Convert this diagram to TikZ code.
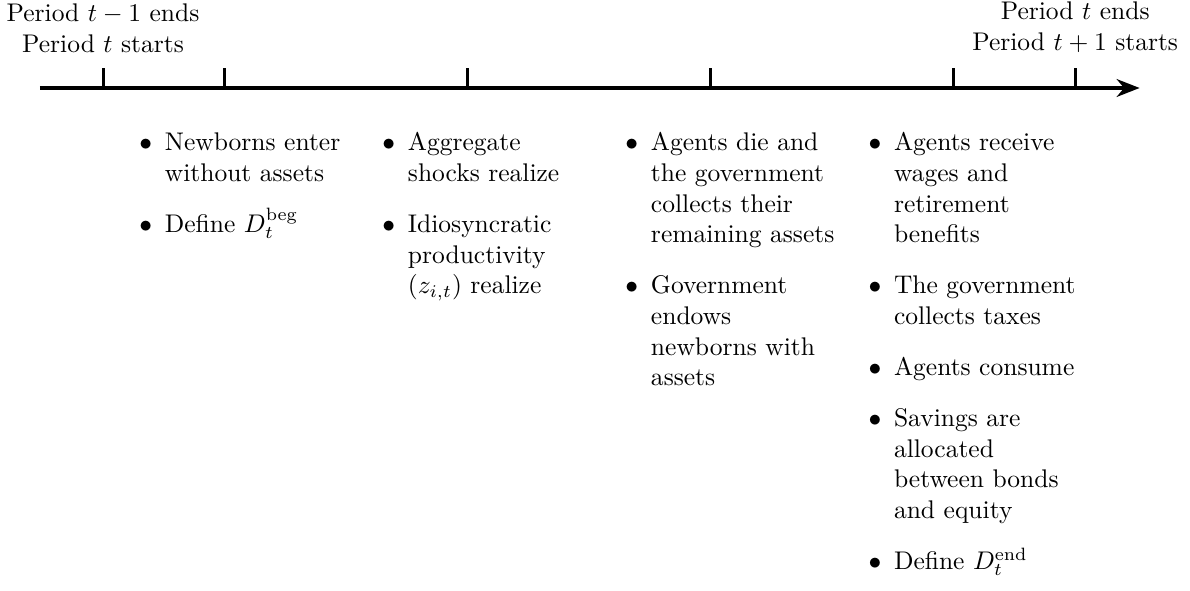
\documentclass[tikz,border=0pt]{standalone}
\usepackage{amsmath}
\usetikzlibrary{arrows.meta, positioning}
\renewcommand{\labelitemi}{$\bullet$}

\begin{document}
\begin{tikzpicture}[
		x=1.6736cm,
		axis/.style={-{Stealth[length=9pt, width=7pt]}, very thick},
		tickmark/.style={very thick},
		period/.style={align=center},
		event/.style={text width=3.5cm, align=left, xshift=0.05cm}
		]
		\useasboundingbox (-1.419cm,-6.915cm) rectangle (14.97cm,1.212cm);
		
		% Timeline
		\coordinate (start) at (-0.52,0);
		\coordinate (end) at (8.53,0);
		\foreach \name/\pos in {s/0, a/1, b/3, c/5, d/7, e/8} {
			\coordinate (\name) at (\pos,0);
			\coordinate (\name-up) at (\pos,0.275cm);
		}
		\draw[axis] (start) -- (end);
		\foreach \name in {s,a,b,c,d,e}
			\draw[tickmark] (\name) -- (\name-up);
		
		% Period labels
		\node[period, above=0.09cm of s-up] (oldperiod) {Period $t-1$ ends\\Period $t$ starts};
		\node[period, above=0.09cm of e-up] (newperiod) {Period $t$ ends\\Period $t+1$ starts};
		
		% Events
		\node[event, below=0.04cm of a] (birth) {
			\begin{itemize}
				\item Newborns enter without assets
				\item Define $D_t^{\mathrm{beg}}$
			\end{itemize}};
		\node[event, below=0.04cm of b] (shocks) {
			\begin{itemize}
				\item Aggregate shocks realize
				\item Idiosyncratic productivity $(z_{i,t})$ realize
			\end{itemize}};
		\node[event, below=0.04cm of c] (death) {
			\begin{itemize}
				\item Agents die and the government collects their remaining assets
				\item Government endows newborns with assets
			\end{itemize}};
		\node[event, below=0.04cm of d] (market) {
			\begin{itemize}
				\item Agents receive wages and retirement benefits
				\item The government collects taxes
				\item Agents consume
				\item Savings are allocated between bonds and equity
				\item Define $D_t^{\mathrm{end}}$
			\end{itemize}};
		
	\end{tikzpicture}
\end{document}
